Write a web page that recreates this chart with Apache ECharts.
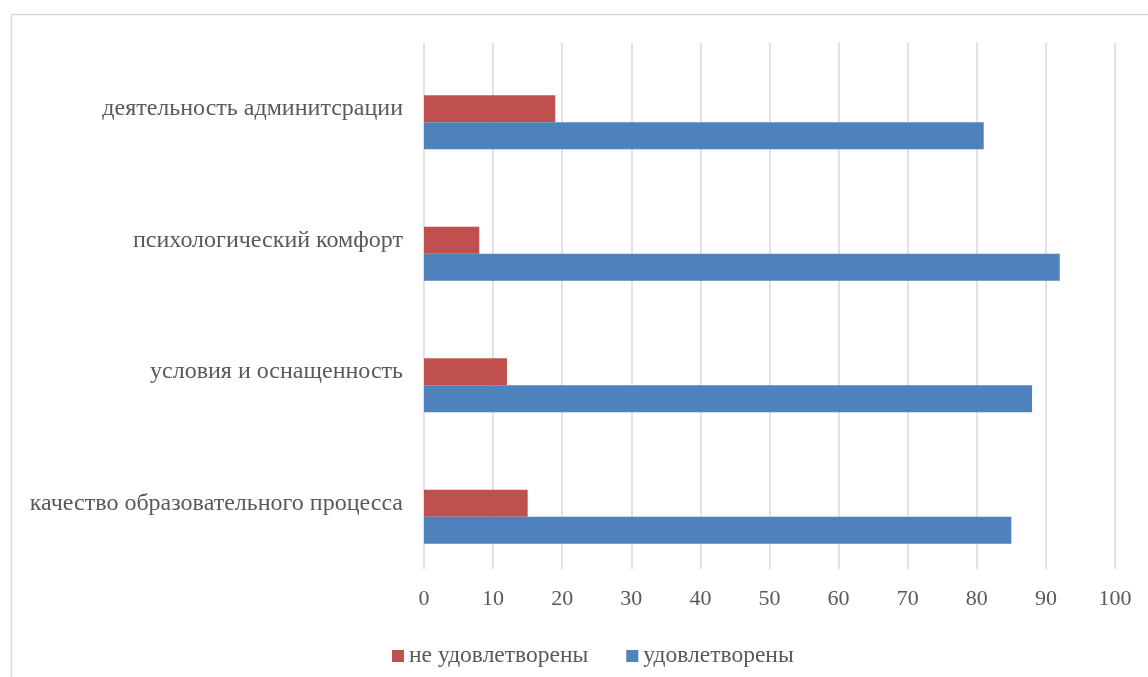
<!DOCTYPE html>
<html>
<head>
<meta charset="utf-8">
<script src="https://cdn.jsdelivr.net/npm/echarts@6/dist/echarts.min.js"></script>
<style>
html,body{margin:0;padding:0;background:#fff;}
#chart{width:1148px;height:677px;}
</style>
</head>
<body>
<div id="chart"></div>
<script>
const categories = ['качество образовательного процесса','условия и оснащенность','психологический комфорт','деятельность админитсрации'];
const satisfied = [85, 88, 92, 81];
const notSatisfied = [15, 12, 8, 19];
const seriesNames = ['не удовлетворены', 'удовлетворены'];
const axisMin = 0, axisMax = 100, axisStep = 10;

const font = '"Liberation Serif", "Times New Roman", serif';
const textColor = '#595959';
const chart = echarts.init(document.getElementById('chart'));
chart.setOption({
  animation: false,
  graphic: [{
    type: 'rect', left: 9, top: 12, z: -10,
    shape: {x: 0, y: 0, width: 1160, height: 700},
    style: {fill: 'none', stroke: '#d9d9d9', lineWidth: 1.5}
  }],
  grid: {left: 424, right: 33, top: 43, bottom: 108, containLabel: false},
  legend: {
    left: 387, top: 639,
    data: seriesNames,
    itemWidth: 12, itemHeight: 12, itemGap: 38,
    icon: 'rect',
    textStyle: {fontFamily: font, fontSize: 23.5, color: textColor}
  },
  xAxis: {
    type: 'value', min: axisMin, max: axisMax, interval: axisStep,
    axisLine: {show: false}, axisTick: {show: false},
    splitLine: {show: true, lineStyle: {color: '#d9d9d9', width: 1.5}},
    axisLabel: {fontFamily: font, fontSize: 22, color: textColor, margin: 19}
  },
  yAxis: {
    type: 'category', data: categories,
    axisLine: {show: false}, axisTick: {show: false},
    axisLabel: {fontFamily: font, fontSize: 24, color: textColor, margin: 21}
  },
  series: [
    {name: '', type: 'bar', data: [], barWidth: 27, barGap: '0%'},
    {name: seriesNames[0], type: 'bar', data: notSatisfied, barWidth: 27, barGap: '0%', itemStyle: {color: '#c0504d'}},
    {name: seriesNames[1], type: 'bar', data: satisfied, barWidth: 27, barGap: '0%', itemStyle: {color: '#4f81bd'}}
  ]
});
</script>
</body>
</html>
